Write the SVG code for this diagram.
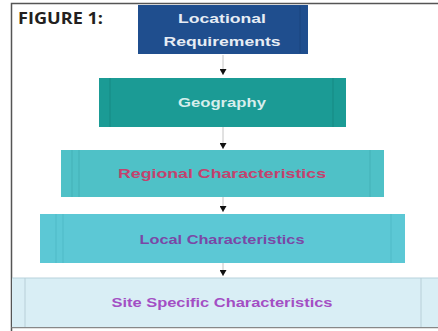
<svg xmlns="http://www.w3.org/2000/svg" width="438" height="331" viewBox="0 0 438 331">
<defs>
<style>
.lbl{font-family:"Liberation Sans",Arial,sans-serif;font-weight:bold;font-size:13px;text-anchor:middle}
.stripe{stroke-width:1;opacity:0.5}
.conn{stroke:#c4c4c4;stroke-width:1;fill:none}
</style>
<marker id="ah" viewBox="0 0 6 7" refX="6" refY="3.5" markerWidth="6" markerHeight="7" markerUnits="userSpaceOnUse" orient="auto">
<path d="M0,0 L6,3.5 L0,7 Z" fill="#111"/>
</marker>
</defs>
<rect x="0" y="0" width="438" height="331" fill="#fff"/>
<path d="M11.5,331 V3.5 H438" fill="none" stroke="#555" stroke-width="1.5"/>
<path d="M11.5,327.5 H438" fill="none" stroke="#888" stroke-width="1.5"/>
<text x="18" y="24" font-family="'Open Sans','Liberation Sans',sans-serif" font-weight="bold" font-size="16" fill="#231f20" textLength="85" lengthAdjust="spacingAndGlyphs">FIGURE 1:</text>
<g id="connectors">
<path class="conn" d="M223,55 V75" marker-end="url(#ah)"/>
<path class="conn" d="M223,127 V149" marker-end="url(#ah)"/>
<path class="conn" d="M223,197 V212" marker-end="url(#ah)"/>
<path class="conn" d="M223,263 V276" marker-end="url(#ah)"/>
</g>
<g id="n1">
<rect x="138" y="5" width="170" height="49" fill="#1f4e8e"/>
<line class="stripe" x1="300" y1="6" x2="300" y2="53" stroke="#163c70"/>
<text class="lbl" x="222" y="23" fill="#e6ecf4" textLength="88" lengthAdjust="spacingAndGlyphs">Locational</text>
<text class="lbl" x="222" y="46" fill="#e6ecf4" textLength="117" lengthAdjust="spacingAndGlyphs">Requirements</text>
</g>
<g id="n2">
<rect x="99" y="78" width="247" height="49" fill="#1b9b95"/>
<line class="stripe" x1="110" y1="78" x2="110" y2="127" stroke="#137a75"/>
<line class="stripe" x1="333" y1="78" x2="333" y2="127" stroke="#137a75"/>
<text class="lbl" x="222" y="107" fill="#d6eeec" font-weight="normal" textLength="88" lengthAdjust="spacingAndGlyphs">Geography</text>
</g>
<g id="n3">
<rect x="61" y="150" width="323" height="47" fill="#4fc1c7"/>
<line class="stripe" x1="72" y1="150" x2="72" y2="197" stroke="#3aa3a9"/>
<line class="stripe" x1="79" y1="150" x2="79" y2="197" stroke="#3aa3a9"/>
<line class="stripe" x1="370" y1="150" x2="370" y2="197" stroke="#3aa3a9"/>
<text class="lbl" x="222" y="178" fill="#c3426e" textLength="208" lengthAdjust="spacingAndGlyphs">Regional Characteristics</text>
</g>
<g id="n4">
<rect x="40" y="214" width="365" height="49" fill="#5cc8d5"/>
<line class="stripe" x1="56" y1="214" x2="56" y2="263" stroke="#44aebb"/>
<line class="stripe" x1="63" y1="214" x2="63" y2="263" stroke="#44aebb"/>
<line class="stripe" x1="391" y1="214" x2="391" y2="263" stroke="#44aebb"/>
<text class="lbl" x="222" y="244" fill="#7a48a6" textLength="165" lengthAdjust="spacingAndGlyphs">Local Characteristics</text>
</g>
<g id="n5">
<rect x="12" y="278" width="426" height="49" fill="#d9eef5"/>
<line x1="12" y1="278" x2="438" y2="278" stroke="#b8d2dc" stroke-width="1"/>
<line x1="25" y1="278" x2="25" y2="327" stroke="#b8cfd8" stroke-width="1"/>
<line x1="421" y1="278" x2="421" y2="327" stroke="#b8cfd8" stroke-width="1"/>
<text class="lbl" x="222" y="307" fill="#a34fc4" textLength="221" lengthAdjust="spacingAndGlyphs">Site Specific Characteristics</text>
</g>
</svg>
